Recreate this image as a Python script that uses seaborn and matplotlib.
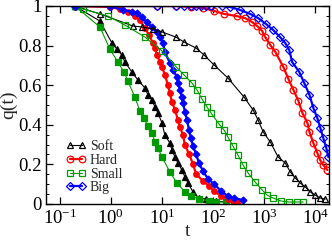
import numpy as np
import pandas as pd
import matplotlib
matplotlib.use("Agg")
import matplotlib.pyplot as plt
import seaborn as sns
from matplotlib.ticker import MultipleLocator

# ---- data ----
soft_f_t = [0.197, 0.61, 1.05, 1.31, 1.64, 1.88, 2.58, 3.38, 4.64, 5.31, 6.37, 7.29, 8.35, 10, 11.4, 14.3, 15.7, 18.0, 20.6, 24.6, 28.2, 32.3, 40.5, 53, 73, 114, 180, 281]
soft_f_q = [1.0, 0.924, 0.813, 0.783, 0.753, 0.717, 0.667, 0.626, 0.586, 0.551, 0.525, 0.490, 0.460, 0.409, 0.348, 0.308, 0.273, 0.237, 0.207, 0.172, 0.136, 0.106, 0.061, 0.030, 0.025, 0.015, 0.010, 0.010]

hard_f_t = [0.197, 0.955, 1.50, 2.15, 2.95, 3.70, 4.64, 5.56, 6.66, 7.29, 7.98, 9.14, 10, 11.4, 13.1, 14.3, 15.7, 18.0, 20.6, 22.5, 25.8, 28.2, 33.8, 40.5, 46.4, 63.5, 83.6, 104.7, 143, 196, 245, 307]
hard_f_q = [1.0, 0.995, 0.985, 0.970, 0.949, 0.929, 0.889, 0.854, 0.813, 0.788, 0.753, 0.717, 0.692, 0.652, 0.601, 0.561, 0.515, 0.475, 0.424, 0.389, 0.348, 0.298, 0.253, 0.202, 0.152, 0.116, 0.091, 0.066, 0.040, 0.025, 0.015, 0.010]

small_f_t = [0.197, 0.61, 0.955, 1.37, 1.80, 2.15, 2.95, 3.70, 4.44, 5.31, 6.37, 7.29, 8.35, 10, 14.3, 19.7, 28.2, 37, 53, 83, 114, 180]
small_f_q = [1.0, 0.894, 0.783, 0.717, 0.667, 0.621, 0.540, 0.470, 0.434, 0.394, 0.359, 0.313, 0.283, 0.237, 0.162, 0.106, 0.061, 0.040, 0.025, 0.015, 0.010, 0.010]

big_f_t = [0.197, 0.955, 1.72, 2.58, 3.23, 4.05, 5.08, 6.37, 7.98, 9.14, 10.45, 11.4, 14.3, 16.4, 19.7, 20.6, 22.5, 24.6, 25.8, 28.2, 30.9, 33.8, 37.0, 40.5, 46.4, 53.1, 63.5, 79.9, 105, 143, 196, 256, 386]
big_f_q = [1.0, 1.0, 0.980, 0.970, 0.965, 0.944, 0.919, 0.894, 0.869, 0.843, 0.813, 0.768, 0.712, 0.677, 0.641, 0.611, 0.576, 0.540, 0.510, 0.465, 0.424, 0.374, 0.333, 0.293, 0.253, 0.207, 0.167, 0.126, 0.101, 0.066, 0.040, 0.030, 0.020]

soft_o_t = [0.197, 0.61, 2.70, 4.05, 6.66, 10, 18.8, 27.0, 46.4, 66.4, 105, 196, 404, 608, 763, 958, 1320, 1880, 2590, 3250, 4070, 5100, 6400, 8000, 10000, 12600, 15800]
soft_o_q = [1.0, 0.96, 0.899, 0.894, 0.884, 0.869, 0.843, 0.818, 0.788, 0.753, 0.702, 0.636, 0.540, 0.475, 0.424, 0.364, 0.313, 0.237, 0.207, 0.162, 0.131, 0.106, 0.086, 0.061, 0.045, 0.030, 0.025]

hard_o_t = [0.197, 0.955, 7.98, 18.8, 37, 63.5, 105, 164, 294, 421, 581, 730, 915, 1050, 1320, 1660, 2380, 2990, 3750, 4700, 5620, 7050, 7720, 9200, 11000, 12500, 14400, 17300]
hard_o_q = [1.0, 1.0, 1.0, 1.0, 0.995, 0.990, 0.975, 0.960, 0.949, 0.939, 0.919, 0.899, 0.874, 0.843, 0.803, 0.768, 0.692, 0.631, 0.576, 0.520, 0.460, 0.409, 0.364, 0.308, 0.258, 0.222, 0.197, 0.172]

small_o_t = [0.197, 0.282, 0.873, 1.88, 4.64, 10, 18.8, 27.0, 38.7, 48.5, 60.8, 76.3, 91.4, 131, 164, 196, 245, 307, 386, 485, 666, 913, 1145, 1500, 2150, 3090, 4440, 5830]
small_o_q = [1.0, 0.985, 0.949, 0.904, 0.843, 0.773, 0.694, 0.652, 0.611, 0.576, 0.530, 0.490, 0.460, 0.404, 0.374, 0.338, 0.293, 0.247, 0.197, 0.157, 0.111, 0.071, 0.045, 0.030, 0.015, 0.010, 0.010, 0.010]

big_o_t = [0.197, 0.955, 7.98, 18.8, 27, 37, 46.4, 58.1, 72.9, 91.4, 150, 215, 338, 532, 763, 1090, 1500, 2050, 2590, 3100, 3540, 4870, 6100, 7720, 9200, 11000, 12600, 14400, 16500, 18100]
big_o_q = [1.0, 1.0, 1.0, 1.0, 1.0, 1.0, 1.0, 1.0, 1.0, 1.0, 1.0, 0.995, 0.980, 0.960, 0.939, 0.909, 0.879, 0.843, 0.813, 0.778, 0.717, 0.667, 0.611, 0.551, 0.485, 0.434, 0.384, 0.333, 0.283, 0.237]

y_ticks = [0, 0.2, 0.4, 0.6, 0.8, 1.0]
y_tick_labels = ["0", "0.2", "0.4", "0.6", "0.8", "1"]

# ---- style ----
sns.set_theme(style="ticks")
plt.rcParams['font.family'] = ['Liberation Serif', 'DejaVu Serif']
plt.rcParams['mathtext.fontset'] = 'stix'

fig = plt.figure(figsize=(3.32, 2.42), dpi=100)
ax = fig.add_axes([46/332, 1-204/242, (329-46)/332, (204-6)/242])

BLACK, RED, GREEN, BLUE = "black", "#ff0000", "#009900", "#0000ff"

series = [
    (soft_f_t, soft_f_q, BLACK, "^", True, 0.8, 4.3, None),
    (small_f_t, small_f_q, GREEN, "s", True, 0.8, 3.8, None),
    (hard_f_t, hard_f_q, RED, "o", True, 1.6, 4.0, None),
    (big_f_t, big_f_q, BLUE, "D", True, 1.6, 3.5, None),
    (soft_o_t, soft_o_q, BLACK, "^", False, 0.8, 5.0, "Soft"),
    (hard_o_t, hard_o_q, RED, "o", False, 1.6, 4.8, "Hard"),
    (small_o_t, small_o_q, GREEN, "s", False, 0.8, 4.3, "Small"),
    (big_o_t, big_o_q, BLUE, "D", False, 1.6, 4.3, "Big"),
]

for t, q, col, mk, filled, lw, ms, lab in series:
    df = pd.DataFrame({"t": t, "q": q})
    sns.lineplot(data=df, x="t", y="q", ax=ax, color=col, marker=mk,
                 markersize=ms, linewidth=lw, markeredgewidth=0.9,
                 markerfacecolor=(col if filled else "none"),
                 markeredgecolor=col, estimator=None, sort=False,
                 label=lab, legend=False)

ax.set_xscale("log")
ax.set_xlim(10**-1.27, 10**4.27)
ax.set_ylim(0, 1)
ax.set_yticks(y_ticks)
ax.set_yticklabels(y_tick_labels)
ax.yaxis.set_minor_locator(MultipleLocator(0.05))
ax.set_xticks([0.1, 1, 10, 100, 1000, 10000])

ax.tick_params(which="both", direction="in", top=True, right=True, colors="black")
ax.tick_params(which="major", length=5, width=0.9, labelsize=13.5, pad=3)
ax.tick_params(which="minor", length=2.5, width=0.7)
for sp in ax.spines.values():
    sp.set_linewidth(1.0)
    sp.set_color("black")

ax.set_xlabel("t", fontsize=14, labelpad=-3)
ax.set_ylabel("q(t)", fontsize=14, labelpad=1)

h, l = ax.get_legend_handles_labels()
leg = ax.legend(h, l, loc="lower left", bbox_to_anchor=(0.035, 0.0),
                numpoints=2, frameon=False, fontsize=10, handlelength=1.5,
                handletextpad=0.25, labelspacing=0.05, borderaxespad=0.3)

fig.savefig("out.png", dpi=100)
